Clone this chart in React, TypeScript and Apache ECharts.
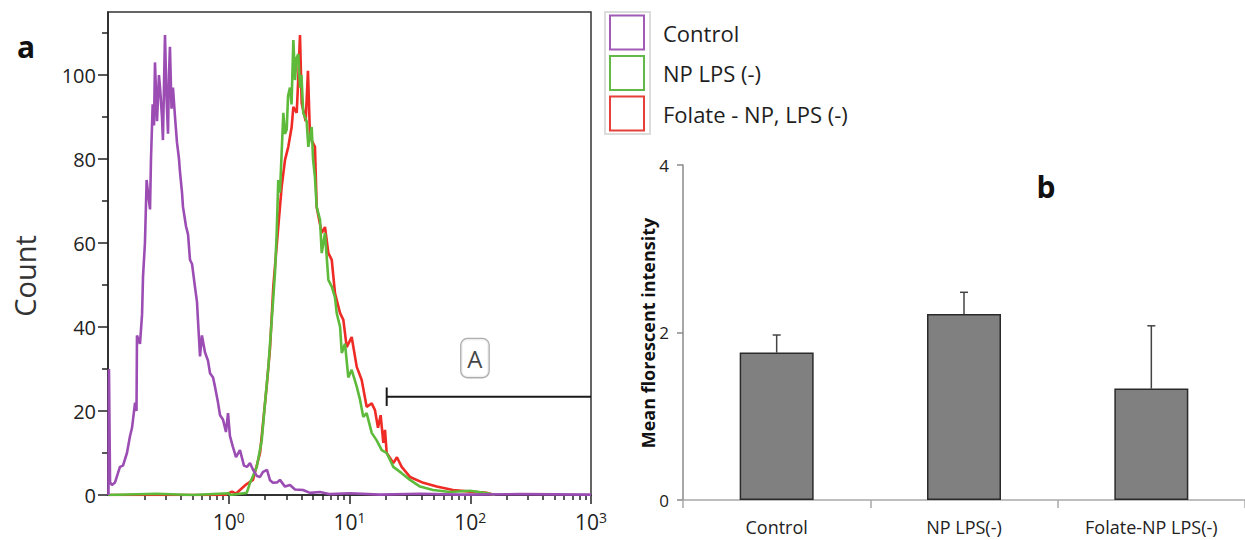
import React, { useEffect, useRef } from "react";
import * as echarts from "echarts";

// ---------- Panel a: flow cytometry histograms (x = log10 fluorescence, y = count) ----------
const controlHist: [number, number][] = [
  [-0.996, 0], [-0.992, 30], [-0.983, 3], [-0.967, 2.4], [-0.942, 3], [-0.901, 6.7], [-0.876, 7],
  [-0.843, 10], [-0.818, 14], [-0.801, 16], [-0.776, 22], [-0.764, 20], [-0.76, 38], [-0.735, 36],
  [-0.718, 43], [-0.71, 52], [-0.694, 60], [-0.68, 75], [-0.669, 72], [-0.652, 68], [-0.644, 80],
  [-0.63, 93], [-0.619, 88], [-0.611, 103], [-0.594, 89], [-0.578, 100], [-0.569, 97], [-0.553, 90],
  [-0.545, 84.5], [-0.536, 98], [-0.528, 109.5], [-0.516, 95], [-0.503, 86], [-0.495, 100],
  [-0.487, 106.7], [-0.474, 92], [-0.462, 97], [-0.445, 90], [-0.429, 84], [-0.412, 80], [-0.404, 77],
  [-0.387, 72], [-0.379, 68.6], [-0.354, 64], [-0.337, 62], [-0.321, 56], [-0.304, 55], [-0.28, 49.6],
  [-0.263, 46], [-0.255, 41.7], [-0.238, 33], [-0.222, 38], [-0.197, 34], [-0.172, 32], [-0.155, 29],
  [-0.13, 28], [-0.114, 25.8], [-0.089, 22], [-0.072, 19], [-0.048, 18], [-0.023, 15], [-0.006, 19.5],
  [0.01, 14], [0.035, 11.4], [0.06, 9], [0.093, 10.7], [0.126, 7], [0.151, 6.7], [0.176, 7.6],
  [0.201, 6], [0.234, 4.5], [0.259, 4.3], [0.284, 5.5], [0.317, 6], [0.342, 3.5], [0.366, 2.9],
  [0.4, 3], [0.424, 3.6], [0.466, 2], [0.507, 2.4], [0.549, 1.3], [0.615, 1.2], [0.673, 0.5],
  [0.756, 0.7], [0.839, 0.2], [1.004, 0.4], [1.253, 0.1], [1.584, 0.3], [1.915, 0.1], [2.412, 0.2],
  [3.0, 0.1],
];

const npHist: [number, number][] = [
  [-1.0, 0], [-0.6, 0.3], [-0.3, 0], [0.0, 0.4], [0.01, 0], [0.093, 0.3], [0.149, 0.5], [0.176, 2.9],
  [0.201, 4.5], [0.232, 6.7], [0.273, 13], [0.3, 21.8], [0.328, 30.5], [0.356, 41.7], [0.383, 52.9],
  [0.397, 62.4], [0.41, 75], [0.424, 72], [0.438, 81.4], [0.452, 91], [0.466, 86], [0.48, 87],
  [0.491, 95], [0.507, 97], [0.52, 93], [0.535, 108.3], [0.549, 98.8], [0.561, 104], [0.576, 105],
  [0.59, 97], [0.602, 100], [0.617, 91], [0.645, 89], [0.659, 82.9], [0.687, 87.6], [0.698, 80],
  [0.714, 75.7], [0.728, 68.6], [0.756, 65.5], [0.77, 57.6], [0.797, 62.4], [0.825, 51.2],
  [0.853, 49.6], [0.88, 47], [0.894, 43.3], [0.922, 40], [0.936, 33.8], [0.963, 36], [0.99, 28],
  [1.018, 29.8], [1.06, 25.8], [1.087, 22.7], [1.114, 18.6], [1.142, 19.5], [1.184, 14.8],
  [1.225, 13], [1.267, 10.7], [1.308, 10], [1.363, 6.7], [1.432, 5.2], [1.501, 3.6], [1.584, 2],
  [1.692, 1.2], [1.832, 0.7], [1.998, 1], [2.139, 0.4], [2.205, 0],
];

const folateHist: [number, number][] = [
  [-1.0, 0], [-0.031, 0], [0.027, 0.8], [0.06, 0.3], [0.093, 1.2], [0.143, 2.5], [0.201, 3.6],
  [0.259, 10], [0.314, 25.8], [0.342, 35], [0.369, 49.6], [0.41, 63.8], [0.438, 73.3], [0.466, 79.8],
  [0.493, 82.9], [0.521, 87.6], [0.535, 92.4], [0.563, 91], [0.577, 100], [0.59, 109.5],
  [0.604, 93.3], [0.637, 89], [0.656, 101], [0.673, 85.2], [0.714, 82.9], [0.728, 68.6],
  [0.77, 62.4], [0.797, 63.8], [0.825, 57.6], [0.853, 56], [0.88, 48], [0.922, 43.3], [0.949, 41.7],
  [0.977, 35.2], [1.018, 37.6], [1.06, 30.5], [1.101, 27.4], [1.142, 21], [1.184, 21.8],
  [1.211, 20.2], [1.236, 16], [1.258, 19], [1.28, 12.4], [1.294, 15.5], [1.308, 10], [1.363, 7.6],
  [1.393, 9], [1.432, 6.7], [1.501, 4.3], [1.611, 2.9], [1.722, 2], [1.857, 1.2], [1.998, 0.8],
  [2.139, 0.5], [2.205, 0],
];

const histNames = ["Control", "NP LPS (-)", "Folate - NP, LPS (-)"];
const histColors = ["#9b4db3", "#5dba3b", "#ee2b24"];
const legendColors = ["#a25ab7", "#63b84a", "#e6403a"];

const countTicks = [0, 20, 40, 60, 80, 100];
const countMinorTicks = [10, 30, 50, 70, 90, 110];
const decades = [0, 1, 2, 3];
const LOG_MIN = -1; // axis starts at 10^-1
const LOG_MAX = 3;

// gate "A" (log10 fluorescence, count level)
const gateStart = 1.308;
const gateEnd = 3;
const gateLevel = 23.4;
const gateLabelPos: [number, number] = [2.039, 32.6];

// ---------- Panel b: mean fluorescent intensity ----------
const barCategories = ["Control", "NP LPS(-)", "Folate-NP LPS(-)"];
const barMeans = [1.76, 2.22, 1.33];
const barErrUpper = [1.97, 2.48, 2.08];
const mfiTicks = [0, 2, 4];

const FONT = "'Open Sans', 'DejaVu Sans', sans-serif";

// the x axis is measured in decades above the axis start, so that its zero sits on the left edge
const toAxisX = (logV: number) => logV - LOG_MIN;

export default function App() {
  const ref = useRef<HTMLDivElement>(null);

  useEffect(() => {
    if (!ref.current) return;
    const chart = echarts.init(ref.current, undefined, { renderer: "svg" });

    const minorDecadeTicks: number[] = [];
    for (let n = LOG_MIN; n < LOG_MAX; n++) {
      for (let k = 2; k <= 9; k++) minorDecadeTicks.push(toAxisX(n + Math.log10(k)));
    }
    const majorDecadeTicks = decades.map(toAxisX);

    const histData = [controlHist, npHist, folateHist].map((h) =>
      h.map(([x, c]) => [toAxisX(x), c])
    );
    // drawing order: Folate (red), NP (green), Control (purple) on top
    const drawOrder = [2, 1, 0];

    const legendGraphics: any[] = [
      {
        type: "rect",
        shape: { x: 605, y: 12, width: 45, height: 122 },
        style: { fill: "none", stroke: "#dcdcdc", lineWidth: 2 },
      },
    ];
    histNames.forEach((name, i) => {
      const y0 = 15.5 + i * 40.5;
      legendGraphics.push({
        type: "rect",
        shape: { x: 610, y: y0, width: 34, height: 34 },
        style: { fill: "#fff", stroke: legendColors[i], lineWidth: 2 },
      });
      legendGraphics.push({
        type: "text",
        x: 663,
        y: y0 + 17,
        style: {
          text: name,
          fill: "#1e1e1e",
          font: `22px ${FONT}`,
          textAlign: "left",
          textVerticalAlign: "middle",
        },
      });
    });

    const option: any = {
      animation: false,
      backgroundColor: "#fff",
      grid: [
        {
          left: 108,
          right: 654,
          top: 12,
          bottom: 45,
          show: true,
          borderColor: "#333",
          borderWidth: 1.5,
          backgroundColor: "transparent",
        },
        { left: 683, right: 0, top: 165, bottom: 40 },
      ],
      xAxis: [
        {
          type: "value",
          gridIndex: 0,
          min: 0,
          max: LOG_MAX - LOG_MIN,
          position: "bottom",
          axisLine: { show: true, onZero: false, lineStyle: { color: "#222", width: 1.5 } },
          axisTick: {
            show: true,
            customValues: minorDecadeTicks,
            length: 5,
            lineStyle: { color: "#222", width: 1.5 },
          },
          axisLabel: { show: false },
          splitLine: { show: false },
        },
        {
          type: "value",
          gridIndex: 0,
          min: 0,
          max: LOG_MAX - LOG_MIN,
          position: "bottom",
          axisLine: { show: false, onZero: false },
          axisTick: {
            show: true,
            customValues: majorDecadeTicks,
            length: 9,
            lineStyle: { color: "#222", width: 1.5 },
          },
          axisLabel: {
            show: true,
            customValues: majorDecadeTicks,
            showMinLabel: true,
            showMaxLabel: true,
            margin: 15,
            formatter: (v: number) => `{b|10}{s|${Math.round(v + LOG_MIN)}}`,
            rich: {
              b: { fontSize: 21, lineHeight: 24, fontFamily: FONT, color: "#222" },
              s: {
                fontSize: 14,
                lineHeight: 14,
                verticalAlign: "top",
                fontFamily: FONT,
                color: "#222",
              },
            },
          },
          splitLine: { show: false },
        },
        {
          type: "category",
          gridIndex: 1,
          data: barCategories,
          axisLine: { show: true, lineStyle: { color: "#a8a8a8", width: 1.5 } },
          axisTick: { show: true, length: 8, lineStyle: { color: "#a8a8a8", width: 1.5 } },
          axisLabel: {
            margin: 18,
            fontSize: 18,
            fontFamily: FONT,
            color: "#222",
          },
          splitLine: { show: false },
        },
      ],
      yAxis: [
        {
          type: "value",
          gridIndex: 0,
          min: 0,
          max: 115,
          axisLine: { show: true, onZero: false, lineStyle: { color: "#222", width: 1.5 } },
          axisTick: {
            show: true,
            customValues: countTicks,
            length: 10,
            lineStyle: { color: "#222", width: 1.5 },
          },
          axisLabel: {
            show: true,
            customValues: countTicks,
            margin: 12,
            fontSize: 20,
            fontFamily: FONT,
            color: "#222",
          },
          splitLine: { show: false },
        },
        {
          type: "value",
          gridIndex: 0,
          min: 0,
          max: 115,
          position: "left",
          axisLine: { show: false, onZero: true },
          axisTick: {
            show: true,
            customValues: countMinorTicks,
            length: 6,
            lineStyle: { color: "#222", width: 1.5 },
          },
          axisLabel: { show: false },
          splitLine: { show: false },
        },
        {
          type: "value",
          gridIndex: 1,
          min: 0,
          max: 4,
          interval: 2,
          axisLine: { show: true, onZero: false, lineStyle: { color: "#8a8a8a", width: 1.5 } },
          axisTick: {
            show: true,
            customValues: mfiTicks,
            length: 6,
            lineStyle: { color: "#8a8a8a", width: 1.5 },
          },
          axisLabel: {
            margin: 14,
            fontSize: 17,
            fontFamily: FONT,
            color: "#222",
          },
          splitLine: { show: false },
        },
      ],
      series: [
        ...drawOrder.map((i) => ({
          type: "line",
          name: histNames[i],
          xAxisIndex: 0,
          yAxisIndex: 0,
          data: histData[i],
          symbol: "none",
          showSymbol: false,
          silent: true,
          clip: true,
          lineStyle: { color: histColors[i], width: 2.6 },
          z: 2,
        })),
        {
          type: "line",
          name: "gate",
          xAxisIndex: 0,
          yAxisIndex: 0,
          data: [
            [toAxisX(gateStart), gateLevel],
            [toAxisX(gateEnd), gateLevel],
          ],
          symbol: "none",
          silent: true,
          lineStyle: { color: "#1a1a1a", width: 2 },
          z: 4,
        },
        {
          type: "line",
          name: "gateTick",
          xAxisIndex: 0,
          yAxisIndex: 0,
          data: [
            [toAxisX(gateStart), gateLevel - 2.2],
            [toAxisX(gateStart), gateLevel + 2.2],
          ],
          symbol: "none",
          silent: true,
          lineStyle: { color: "#1a1a1a", width: 2 },
          z: 4,
        },
        {
          type: "scatter",
          name: "gateLabel",
          xAxisIndex: 0,
          yAxisIndex: 0,
          data: [[toAxisX(gateLabelPos[0]), gateLabelPos[1]]],
          symbolSize: 1,
          itemStyle: { color: "transparent" },
          silent: true,
          label: {
            show: true,
            position: "inside",
            formatter: "A",
            fontSize: 24,
            lineHeight: 24,
            fontFamily: FONT,
            color: "#111",
            backgroundColor: "#fff",
            borderColor: "#9a9a9a",
            borderWidth: 1.3,
            borderRadius: 6,
            padding: [7, 6, 7, 6],
          },
          z: 5,
        },
        {
          type: "bar",
          name: "MFI",
          xAxisIndex: 2,
          yAxisIndex: 2,
          data: barMeans,
          barWidth: 74,
          silent: true,
          itemStyle: { color: "#808080", borderColor: "#2a2a2a", borderWidth: 1.5 },
          z: 3,
        },
        {
          type: "custom",
          name: "error",
          xAxisIndex: 2,
          yAxisIndex: 2,
          silent: true,
          data: barCategories.map((_, i) => [i, barMeans[i], barErrUpper[i]]),
          encode: { x: 0, y: [1, 2] },
          renderItem: (params: any, api: any) => {
            const idx = api.value(0);
            const base = api.coord([idx, api.value(1)]);
            const top = api.coord([idx, api.value(2)]);
            return {
              type: "group",
              children: [
                {
                  type: "line",
                  shape: { x1: base[0], y1: base[1], x2: top[0], y2: top[1] },
                  style: { stroke: "#444", lineWidth: 1.5 },
                },
                {
                  type: "line",
                  shape: { x1: top[0] - 4, y1: top[1], x2: top[0] + 4, y2: top[1] },
                  style: { stroke: "#444", lineWidth: 1.5 },
                },
              ],
            };
          },
          z: 2,
        },
      ],
      graphic: [
        {
          type: "text",
          x: 26,
          y: 46,
          style: {
            text: "a",
            fill: "#111",
            font: `bold 30px ${FONT}`,
            textAlign: "center",
            textVerticalAlign: "middle",
          },
        },
        {
          type: "text",
          x: 24,
          y: 276,
          rotation: Math.PI / 2,
          style: {
            text: "Count",
            fill: "#333",
            font: `29px ${FONT}`,
            textAlign: "center",
            textVerticalAlign: "middle",
          },
        },
        ...legendGraphics,
        {
          type: "text",
          x: 1046,
          y: 186,
          style: {
            text: "b",
            fill: "#111",
            font: `bold 30px ${FONT}`,
            textAlign: "center",
            textVerticalAlign: "middle",
          },
        },
        {
          type: "text",
          x: 648,
          y: 333,
          rotation: Math.PI / 2,
          style: {
            text: "Mean florescent intensity",
            fill: "#111",
            font: `bold 18px ${FONT}`,
            textAlign: "center",
            textVerticalAlign: "middle",
          },
        },
      ],
    };

    chart.setOption(option);
    return () => chart.dispose();
  }, []);

  return (
    <div
      ref={ref}
      style={{ position: "fixed", left: 0, top: 0, width: 1245, height: 540, background: "#fff" }}
    />
  );
}
